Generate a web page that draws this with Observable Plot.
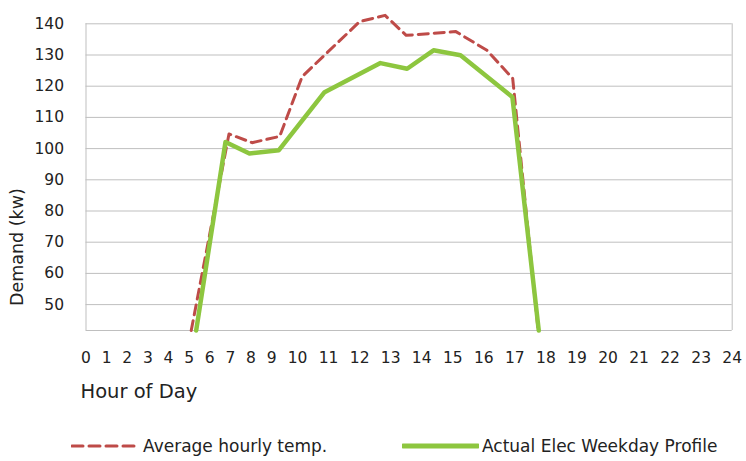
<!DOCTYPE html>
<html>
<head>
<meta charset="utf-8">
<script src="https://cdn.jsdelivr.net/npm/d3@7"></script>
<script src="https://cdn.jsdelivr.net/npm/@observablehq/plot@0.6"></script>
<style>
  body { margin: 0; background: #fff; font-family: "DejaVu Sans", sans-serif; color: #222; }
  #wrap { width: 746px; height: 461px; position: relative; overflow: hidden; }
  #legend { position: relative; width: 746px; height: 41px; }
  .item { position: absolute; top: 16px; display: flex; align-items: center; font-size: 17px; white-space: nowrap; }
  .item svg { display: block; margin-right: 3px; }
</style>
</head>
<body>
<div id="wrap">
  <div id="chart"></div>
  <div id="legend"></div>
</div>
<script>
// ---- data ----
const hourTicks = [0,1,2,3,4,5,6,7,8,9,10,11,12,13,14,15,16,17,18,19,20,21,22,23,24];
const demandTicks = [50,60,70,80,90,100,110,120,130,140];
const demandMin = 41.7;

const seriesNames = ["Average hourly temp.", "Actual Elec Weekday Profile"];

const tempHours  = [5.1, 6.93, 8.05, 9.31, 10.15, 12.0, 12.82, 13.5, 15.1, 16.1, 16.93, 17.75];
const tempValues = [41.7, 104.7, 101.9, 103.9, 123.1, 140.7, 142.7, 136.3, 137.5, 131.5, 122.5, 41.7];

const elecHours  = [5.34, 6.76, 7.92, 9.28, 10.87, 12.67, 13.53, 14.38, 15.25, 16.92, 17.77];
const elecValues = [41.7, 102.1, 98.4, 99.5, 118.1, 127.4, 125.6, 131.5, 129.9, 116.5, 41.7];

// ---- build ----
const temp = tempHours.map((h, i) => ({hour: h, value: tempValues[i]}));
const elec = elecHours.map((h, i) => ({hour: h, value: elecValues[i]}));

const W = 746, H = 420;
const mL = 85.5, mR = 14.3, mT = 23.3, mB = 90;
const FONT = "'DejaVu Sans', sans-serif";
const RED = "#be4b48", GREEN = "#8dc63f", GRID = "#bfbfbf";

// x labels were laid out as a line of text; spacing follows label width
const digitW = 10.4, gapW = 10.2;
const lw = hourTicks.map(h => String(h).length * digitW);
const cum = [0];
for (let i = 1; i < hourTicks.length; i++) cum.push(cum[i - 1] + lw[i - 1] / 2 + gapW + lw[i] / 2);
const total = cum[cum.length - 1];
const xRange = cum.map(c => mL + c / total * (W - mL - mR));

const chart = Plot.plot({
  width: W, height: H,
  marginLeft: mL, marginRight: mR, marginTop: mT, marginBottom: mB,
  style: {fontFamily: FONT, fontSize: "15.5px", color: "#222", background: "#fff", overflow: "visible"},
  x: {type: "linear", domain: hourTicks, range: xRange},
  y: {domain: [demandMin, 140]},
  marks: [
    Plot.ruleY(demandTicks, {stroke: GRID, strokeWidth: 1}),
    Plot.ruleY([demandMin], {stroke: GRID, strokeWidth: 1}),
    Plot.ruleX([hourTicks[0], hourTicks[hourTicks.length - 1]], {stroke: GRID, strokeWidth: 1}),
    Plot.axisY({ticks: demandTicks, tickSize: 0, tickPadding: 22, label: null, fontSize: 15.5}),
    Plot.axisX({ticks: hourTicks, tickSize: 0, tickPadding: 21, label: null, fontSize: 15.5, tickFormat: d => String(d)}),
    Plot.line(temp, {x: "hour", y: "value", stroke: RED, strokeWidth: 3, strokeDasharray: "10,6"}),
    Plot.line(elec, {x: "hour", y: "value", stroke: GREEN, strokeWidth: 4.5}),
    Plot.text(["Demand (kw)"], {text: d => d, frameAnchor: "left", textAnchor: "middle", lineAnchor: "middle", rotate: -90, dx: -69, dy: 70, fontSize: 17.5, fill: "#222"}),
    Plot.text(["Hour of Day"], {text: d => d, frameAnchor: "bottom-left", textAnchor: "start", lineAnchor: "middle", dx: -5.5, dy: 61, fontSize: 19.5, fill: "#222"})
  ]
});
document.getElementById("chart").appendChild(chart);

// ---- legend ----
const legend = d3.select("#legend");
const items = [
  {name: seriesNames[0], color: RED, width: 3, dash: "11,6", left: 71, sw: 69},
  {name: seriesNames[1], color: GREEN, width: 5, dash: null, left: 402, sw: 77}
];
items.forEach(it => {
  const div = legend.append("div").attr("class", "item").style("left", it.left + "px");
  const s = div.append("svg").attr("width", it.sw).attr("height", 12);
  s.append("line").attr("x1", 1).attr("x2", it.sw - 1).attr("y1", 6).attr("y2", 6)
    .attr("stroke", it.color).attr("stroke-width", it.width)
    .attr("stroke-dasharray", it.dash).attr("stroke-linecap", "round");
  div.append("span").text(it.name);
});
</script>
</body>
</html>
